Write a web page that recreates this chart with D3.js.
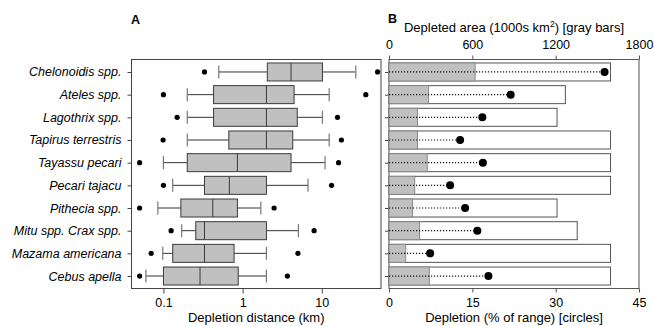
<!DOCTYPE html>
<html><head><meta charset="utf-8">
<script src="https://cdn.jsdelivr.net/npm/d3@7"></script>
<style>
body{margin:0;background:#fff;}
svg{display:block;font-family:Arial,"Liberation Sans",sans-serif;}
</style></head>
<body><svg id="c" width="654" height="326"></svg>
<script>
const species = ["Chelonoidis spp.","Ateles spp.","Lagothrix spp.","Tapirus terrestris","Tayassu pecari","Pecari tajacu","Pithecia spp.","Mitu spp. Crax spp.","Mazama americana","Cebus apella"];
// Panel A: depletion distance (km) box plot stats
const outLow  = [0.33, 0.10, 0.149, 0.099, 0.05, 0.10, 0.05, 0.125, 0.07, 0.05];
const whiskLow= [0.50, 0.20, 0.20, 0.20, 0.10, 0.131, 0.085, 0.17, 0.098, 0.06];
const q1      = [2.05, 0.43, 0.43, 0.67, 0.20, 0.33, 0.166, 0.256, 0.131, 0.10];
const median  = [4.09, 2.0, 2.0, 2.0, 0.86, 0.68, 0.42, 0.33, 0.33, 0.29];
const q3      = [10.2, 4.47, 4.9, 4.3, 4.09, 2.0, 0.86, 2.0, 0.78, 0.88];
const whiskHigh=[26.9, 12.4, 10.2, 12.4, 11.0, 6.7, 1.7, 5.07, 2.0, 2.0];
const outHigh = [50.7, 36.0, 15.8, 17.7, 16.3, 13.3, 2.5, 8.0, 5.0, 3.68];
const xTicksA = [0.1, 1, 10];
// Panel B
const totalArea   = [1595, 1270, 1210, 1595, 1595, 1595, 1210, 1355, 1595, 1595];
const depletedArea= [620, 285, 205, 205, 275, 185, 170, 220, 120, 290];
const depletionPct= [38.8, 21.9, 16.8, 12.8, 16.9, 11.0, 13.7, 15.9, 7.4, 17.9];
const areaTicks = [0, 600, 1200, 1800];
const pctTicks = [0, 15, 30, 45];

const svg = d3.select("#c");
const yTop = 59.5, yBot = 288.5;
const y = d3.scalePoint().domain(species).range([yTop, yBot]).padding(0.55);
const bh = 18;
const fs = "12.5px";

// ---------- Panel A ----------
const xA = d3.scaleLog().domain([0.0395, 56]).range([131.5, 381]);
const gA = svg.append("g");
gA.append("rect").attr("x",131.5).attr("y",yTop).attr("width",381-131.5).attr("height",yBot-yTop)
  .attr("fill","none").attr("stroke","#444").attr("stroke-width",1);

const yAxA = gA.append("g").attr("transform","translate(131.5,0)")
  .call(d3.axisLeft(y).tickSize(4).tickPadding(6));
yAxA.select(".domain").remove();
yAxA.selectAll("line").attr("stroke","#444");
yAxA.selectAll("text").attr("font-size",fs).attr("font-style","italic").attr("fill","#000").attr("font-family",null);

const xAxA = gA.append("g").attr("transform",`translate(0,${yBot})`)
  .call(d3.axisBottom(xA).tickValues(xTicksA).tickFormat(d3.format("~g")).tickSize(5).tickPadding(5));
xAxA.select(".domain").remove();
xAxA.selectAll("line").attr("stroke","#444");
xAxA.selectAll("text").attr("font-size",fs).attr("fill","#000").attr("font-family",null);

species.forEach((s,i)=>{
  const cy = y(s);
  const g = gA.append("g");
  g.append("line").attr("x1",xA(whiskLow[i])).attr("x2",xA(q1[i])).attr("y1",cy).attr("y2",cy).attr("stroke","#333");
  g.append("line").attr("x1",xA(q3[i])).attr("x2",xA(whiskHigh[i])).attr("y1",cy).attr("y2",cy).attr("stroke","#333");
  [whiskLow[i], whiskHigh[i]].forEach(v=>{
    g.append("line").attr("x1",xA(v)).attr("x2",xA(v)).attr("y1",cy-6.5).attr("y2",cy+6.5).attr("stroke","#777").attr("stroke-width",1.2);
  });
  g.append("rect").attr("x",xA(q1[i])).attr("y",cy-bh/2).attr("width",xA(q3[i])-xA(q1[i])).attr("height",bh)
    .attr("fill","#c0c0c0").attr("stroke","#3a3a3a").attr("stroke-width",1);
  g.append("line").attr("x1",xA(median[i])).attr("x2",xA(median[i])).attr("y1",cy-bh/2).attr("y2",cy+bh/2).attr("stroke","#3a3a3a");
  [outLow[i], outHigh[i]].forEach(v=>{
    g.append("circle").attr("cx",xA(v)).attr("cy",cy).attr("r",2.6).attr("fill","#000");
  });
});

gA.append("text").attr("x",131).attr("y",23.5).attr("font-size","12.5px").attr("font-weight","bold").text("A");
gA.append("text").attr("x",(131.5+381)/2).attr("y",322).attr("text-anchor","middle").attr("font-size","13px").text("Depletion distance (km)");

// ---------- Panel B ----------
const x0 = 389, x1 = 639;
const xArea = d3.scaleLinear().domain([0,1800]).range([x0,x1]);
const xPct = d3.scaleLinear().domain([0,45]).range([x0,x1]);
const gB = svg.append("g");
gB.append("rect").attr("x",x0).attr("y",yTop).attr("width",x1-x0).attr("height",yBot-yTop)
  .attr("fill","none").attr("stroke","#555").attr("stroke-width",1);

const yAxB = gB.append("g").attr("transform",`translate(${x0},0)`)
  .call(d3.axisLeft(y).tickSize(4).tickFormat(""));
yAxB.select(".domain").remove();
yAxB.selectAll("line").attr("stroke","#444");

const topAx = gB.append("g").attr("transform",`translate(0,${yTop})`)
  .call(d3.axisTop(xArea).tickValues(areaTicks).tickFormat(d3.format("d")).tickSize(4).tickPadding(7));
topAx.select(".domain").remove();
topAx.selectAll("line").attr("stroke","#555");
topAx.selectAll("text").attr("font-size",fs).attr("fill","#000").attr("font-family",null);

const botAx = gB.append("g").attr("transform",`translate(0,${yBot})`)
  .call(d3.axisBottom(xPct).tickValues(pctTicks).tickSize(4).tickPadding(6));
botAx.select(".domain").remove();
botAx.selectAll("line").attr("stroke","#555");
botAx.selectAll("text").attr("font-size",fs).attr("fill","#000").attr("font-family",null);

species.forEach((s,i)=>{
  const cy = y(s);
  gB.append("rect").attr("x",x0).attr("y",cy-bh/2).attr("width",xArea(totalArea[i])-x0).attr("height",bh)
    .attr("fill","#fff").attr("stroke","#555").attr("stroke-width",1);
  gB.append("rect").attr("x",x0).attr("y",cy-bh/2).attr("width",xArea(depletedArea[i])-x0).attr("height",bh)
    .attr("fill","#c0c0c0").attr("stroke","#888").attr("stroke-width",1);
  gB.append("line").attr("x1",x0).attr("x2",xPct(depletionPct[i])).attr("y1",cy).attr("y2",cy)
    .attr("stroke","#111").attr("stroke-width",1.2).attr("stroke-dasharray","1.2,1.8");
  gB.append("circle").attr("cx",xPct(depletionPct[i])).attr("cy",cy).attr("r",4).attr("fill","#000");
});

gB.append("text").attr("x",388).attr("y",23).attr("font-size","12.5px").attr("font-weight","bold").text("B");
const tt = gB.append("text").attr("x",(x0+x1)/2).attr("y",31.5).attr("text-anchor","middle").attr("font-size","13px");
tt.append("tspan").text("Depleted area (1000s km");
tt.append("tspan").attr("font-size","8.5px").attr("dy",-5).text("2");
tt.append("tspan").attr("dy",5).text(") [gray bars]");
gB.append("text").attr("x",(x0+x1)/2).attr("y",322).attr("text-anchor","middle").attr("font-size","13px").text("Depletion (% of range) [circles]");
</script>
</body></html>
